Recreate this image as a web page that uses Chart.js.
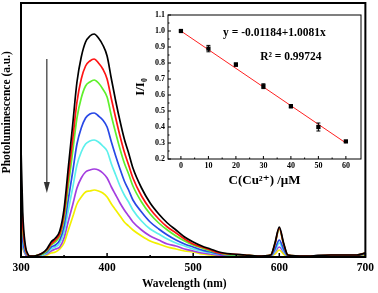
<!DOCTYPE html>
<html>
<head>
<meta charset="utf-8">
<script src="https://cdn.jsdelivr.net/npm/chart.js@4.4.1/dist/chart.umd.min.js"></script>
<style>
  html, body { margin: 0; padding: 0; background: #fff; }
  #wrap { position: relative; width: 378px; height: 293px; }
  #main { position: absolute; left: 0; top: 0; }
  #inset { position: absolute; left: 128px; top: 5px; }
</style>
</head>
<body>
<div id="wrap">
  <canvas id="main" width="378" height="293"></canvas>
  <canvas id="inset" width="237" height="185"></canvas>
</div>
<script>
// ── Main spectra (wavelength in nm, intensity in a.u.) ──
const wavelengths = [300, 302, 305, 308, 310, 315, 320, 325, 330, 335, 340, 345, 350, 355, 360, 365, 370, 375, 380, 385,
  390, 395, 400, 405, 410, 415, 420, 425, 430, 440, 450, 460, 470, 480, 490, 500, 510, 520, 530, 545,
  560, 575, 590, 595, 600, 605, 610, 630, 660, 690, 700];

const plBlack  = [110, 45, 12, 3, 1, 1, 2, 4, 8, 15, 19, 26, 48, 90, 132, 175, 200, 215, 221, 223,
  219, 212, 201, 178, 156, 136, 118, 104, 89, 69, 54, 43, 34, 27, 20, 15, 11, 8, 5, 3,
  2, 1, 2, 14, 30, 14, 2, 1, 2, 2, 4];
const plRed    = [75, 32, 9, 2, 1, 1, 2, 4, 7, 13, 17, 23, 43, 80, 117, 155, 178, 191, 196, 198,
  194, 188, 178, 158, 139, 121, 105, 92, 79, 61, 48, 38, 30, 24, 18, 13, 10, 7, 4, 3,
  2, 1, 2, 13, 29, 13, 2, 1, 2, 2, 4];
const plGreen  = [62, 27, 8, 2, 1, 1, 2, 3, 6, 12, 15, 21, 38, 71, 105, 139, 159, 171, 175, 177,
  174, 168, 160, 141, 124, 108, 94, 83, 71, 55, 43, 34, 27, 21, 16, 12, 9, 6, 4, 2,
  2, 1, 2, 13, 28, 13, 2, 1, 2, 2, 4];
const plBlue   = [35, 16, 5, 1, 0, 1, 1, 3, 5, 10, 12, 17, 31, 58, 85, 113, 129, 139, 143, 144,
  141, 137, 130, 115, 101, 88, 76, 67, 57, 45, 35, 28, 22, 17, 13, 10, 7, 5, 3, 2,
  1, 1, 1, 8, 17, 8, 1, 1, 2, 2, 3];
const plCyan   = [30, 13, 4, 1, 0, 1, 1, 2, 4, 8, 10, 14, 25, 47, 69, 92, 105, 113, 116, 117,
  115, 111, 106, 93, 82, 71, 62, 55, 47, 36, 28, 23, 18, 14, 11, 8, 6, 4, 3, 2,
  1, 1, 1, 6, 14, 6, 1, 1, 2, 2, 3];
const plPurple = [25, 11, 3, 0, 0, 0, 1, 2, 3, 6, 8, 10, 19, 36, 52, 69, 79, 85, 87, 88,
  87, 84, 79, 70, 62, 54, 47, 41, 35, 27, 21, 17, 13, 11, 8, 6, 4, 3, 2, 1,
  1, 1, 1, 5, 10, 5, 1, 1, 2, 2, 3];
const plYellow = [20, 9, 3, 0, 0, 0, 0, 1, 2, 4, 5, 8, 14, 27, 40, 53, 60, 65, 66, 67,
  66, 64, 60, 53, 47, 41, 35, 31, 27, 21, 16, 13, 10, 8, 6, 5, 3, 2, 1, 1,
  1, 0, 1, 3, 7, 3, 0, 0, 1, 1, 2];

const wlTicks = [300, 400, 500, 600, 700];
const wlMinor = [350, 450, 550, 650];

// arrow: wavelength, start and end intensity
const arrowNm = 330, arrowFrom = 198, arrowTo = 64;

// ── Inset: I/I0 vs C(Cu2+) ──
const conc      = [0, 10, 20, 30, 40, 50, 60];
const ratio     = [1.0, 0.89, 0.79, 0.655, 0.53, 0.40, 0.31];
const ratioErr  = [0.005, 0.02, 0.01, 0.015, 0.01, 0.025, 0.005];
const fitConc   = [0, 60];
const fitRatio  = [1.0, 0.30];
const concTicks  = [0, 10, 20, 30, 40, 50, 60];
const concMinor  = [5, 15, 25, 35, 45, 55];
const ratioTicks = [0.2, 0.3, 0.4, 0.5, 0.6, 0.7, 0.8, 0.9, 1.0, 1.1];
const ratioMinor = [0.25, 0.35, 0.45, 0.55, 0.65, 0.75, 0.85, 0.95, 1.05];

const SERIF = '"Liberation Serif", "DejaVu Serif", serif';
Chart.defaults.font.family = SERIF;
Chart.defaults.font.weight = 'bold';
Chart.defaults.color = '#000';

const xy = (xs, ys) => xs.map((x, i) => ({ x, y: ys[i] }));

// frame + inward tick marks, drawn from the chart's own scales
function frameTicks(cfg) {
  return {
    id: 'frameTicks',
    afterDraw(chart) {
      const { ctx, chartArea: a, scales } = chart;
      ctx.save();
      ctx.strokeStyle = '#000';
      ctx.lineWidth = cfg.frame;
      ctx.strokeRect(a.left, a.top, a.right - a.left, a.bottom - a.top);
      ctx.lineWidth = cfg.tickWidth;
      ctx.beginPath();
      const xt = (vals, len) => vals.forEach(v => {
        const p = scales.x.getPixelForValue(v);
        ctx.moveTo(p, a.bottom); ctx.lineTo(p, a.bottom - len);
      });
      const yt = (vals, len) => vals.forEach(v => {
        const p = scales.y.getPixelForValue(v);
        ctx.moveTo(a.left, p); ctx.lineTo(a.left + len, p);
      });
      if (cfg.xMajor) xt(cfg.xMajor, cfg.majorLen);
      if (cfg.xMinor) xt(cfg.xMinor, cfg.minorLen);
      if (cfg.yMajor) yt(cfg.yMajor, cfg.majorLen);
      if (cfg.yMinor) yt(cfg.yMinor, cfg.minorLen);
      ctx.stroke();
      ctx.restore();
    }
  };
}

// arrow + the two main axis titles (placed off-centre like the original)
const mainExtras = {
  id: 'mainExtras',
  afterDatasetsDraw(chart) {
    const { ctx, chartArea: a, scales: { x, y } } = chart;
    const px = x.getPixelForValue(arrowNm);
    const y0 = y.getPixelForValue(arrowFrom), y1 = y.getPixelForValue(arrowTo);
    ctx.save();
    ctx.strokeStyle = '#333'; ctx.fillStyle = '#333'; ctx.lineWidth = 1.2;
    ctx.beginPath(); ctx.moveTo(px, y0); ctx.lineTo(px, y1 - 8); ctx.stroke();
    ctx.beginPath(); ctx.moveTo(px, y1); ctx.lineTo(px - 3, y1 - 11); ctx.lineTo(px + 3, y1 - 11); ctx.closePath(); ctx.fill();

    ctx.fillStyle = '#000';
    ctx.textAlign = 'center'; ctx.textBaseline = 'middle';
    ctx.font = 'bold 11.5px ' + SERIF;
    ctx.fillText('Wavelength (nm)', a.left + (a.right - a.left) * 0.474, a.bottom + 27);
    ctx.translate(a.left - 14, a.top + (a.bottom - a.top) * 0.43);
    ctx.rotate(-Math.PI / 2);
    ctx.fillText('Photoluminescence (a.u.)', 0, 0);
    ctx.restore();
  }
};

const spectra = [
  [plBlack, '#000000'], [plRed, '#ff1414'], [plGreen, '#5ff02c'], [plBlue, '#2848e6'],
  [plCyan, '#5cf0ec'], [plPurple, '#a43ee0'], [plYellow, '#f2f000']
];

new Chart(document.getElementById('main'), {
  type: 'line',
  data: {
    datasets: spectra.map(([vals, color]) => ({
      data: xy(wavelengths, vals),
      borderColor: color,
      borderWidth: 1.7,
      pointRadius: 0,
      cubicInterpolationMode: 'monotone',
      fill: false,
    }))
  },
  options: {
    responsive: false,
    animation: false,
    layout: { padding: { top: 3, right: 11, left: 0, bottom: 0 } },
    plugins: { legend: { display: false }, tooltip: { enabled: false } },
    scales: {
      x: {
        type: 'linear', min: 300, max: 700,
        afterBuildTicks: s => { s.ticks = wlTicks.map(v => ({ value: v })); },
        afterFit: s => { s.height = 36; },
        grid: { display: false, drawTicks: false },
        border: { display: false },
        ticks: { font: { size: 11.5, weight: 'bold' }, padding: 4, maxRotation: 0 }
      },
      y: {
        min: 0, max: 254,
        afterFit: s => { s.width = 21; },
        grid: { display: false, drawTicks: false },
        border: { display: false },
        ticks: { display: false }
      }
    }
  },
  plugins: [frameTicks({ frame: 2, tickWidth: 1.5, majorLen: 4, minorLen: 2, xMajor: wlTicks, xMinor: wlMinor }), mainExtras]
});

// error bars + equation text for the inset
const insetExtras = {
  id: 'insetExtras',
  afterDatasetsDraw(chart) {
    const { ctx, scales: { x, y } } = chart;
    ctx.save();
    ctx.strokeStyle = '#000'; ctx.lineWidth = 1;
    ctx.beginPath();
    conc.forEach((c, i) => {
      const px = x.getPixelForValue(c);
      const top = y.getPixelForValue(ratio[i] + ratioErr[i]);
      const bot = y.getPixelForValue(ratio[i] - ratioErr[i]);
      ctx.moveTo(px, top); ctx.lineTo(px, bot);
      ctx.moveTo(px - 2, top); ctx.lineTo(px + 2, top);
      ctx.moveTo(px - 2, bot); ctx.lineTo(px + 2, bot);
    });
    ctx.stroke();
    ctx.fillStyle = '#000';
    ctx.textAlign = 'center'; ctx.textBaseline = 'middle';
    ctx.font = 'bold 11.5px ' + SERIF;
    ctx.fillText('y = -0.01184+1.0081x', x.getPixelForValue(34), y.getPixelForValue(0.99));
    ctx.fillText('R\u00B2 = 0.99724', x.getPixelForValue(40), y.getPixelForValue(0.84));
    ctx.restore();
  }
};

new Chart(document.getElementById('inset'), {
  type: 'scatter',
  data: {
    datasets: [
      {
        data: xy(conc, ratio),
        pointStyle: 'rect', pointRadius: 3, pointHoverRadius: 3,
        backgroundColor: '#000', borderColor: '#000', borderWidth: 0,
        showLine: false,
      },
      {
        data: xy(fitConc, fitRatio),
        showLine: true, borderColor: '#ff2020', borderWidth: 1,
        pointRadius: 0, fill: false,
      }
    ]
  },
  options: {
    responsive: false,
    animation: false,
    layout: { padding: { top: 10, right: 4, left: 0, bottom: 0 } },
    plugins: { legend: { display: false }, tooltip: { enabled: false } },
    scales: {
      x: {
        type: 'linear', min: -4.7, max: 65.5,
        afterBuildTicks: s => { s.ticks = concTicks.map(v => ({ value: v })); },
        afterFit: s => { s.height = 31; },
        grid: { display: false, drawTicks: false },
        border: { display: false },
        ticks: { font: { size: 8, weight: 'bold' }, padding: 2, maxRotation: 0 },
        title: { display: true, text: 'C(Cu\u00B2\u207A) /\u03BCM', font: { size: 13, weight: 'bold' }, padding: { top: 0, bottom: 2 } }
      },
      y: {
        min: 0.2, max: 1.1,
        afterBuildTicks: s => { s.ticks = ratioTicks.map(v => ({ value: v })); },
        afterFit: s => { s.width = 40; },
        grid: { display: false, drawTicks: false },
        border: { display: false },
        ticks: { font: { size: 8, weight: 'bold' }, padding: 3, callback: v => v.toFixed(1) },
        title: { display: true, text: 'I/I\u2080', font: { size: 13, weight: 'bold' }, padding: { top: 5, bottom: 0 } }
      }
    }
  },
  plugins: [frameTicks({ frame: 1, tickWidth: 1, majorLen: 3, minorLen: 1.5,
    xMajor: concTicks, xMinor: concMinor, yMajor: ratioTicks, yMinor: ratioMinor }), insetExtras]
});
</script>
</body>
</html>
